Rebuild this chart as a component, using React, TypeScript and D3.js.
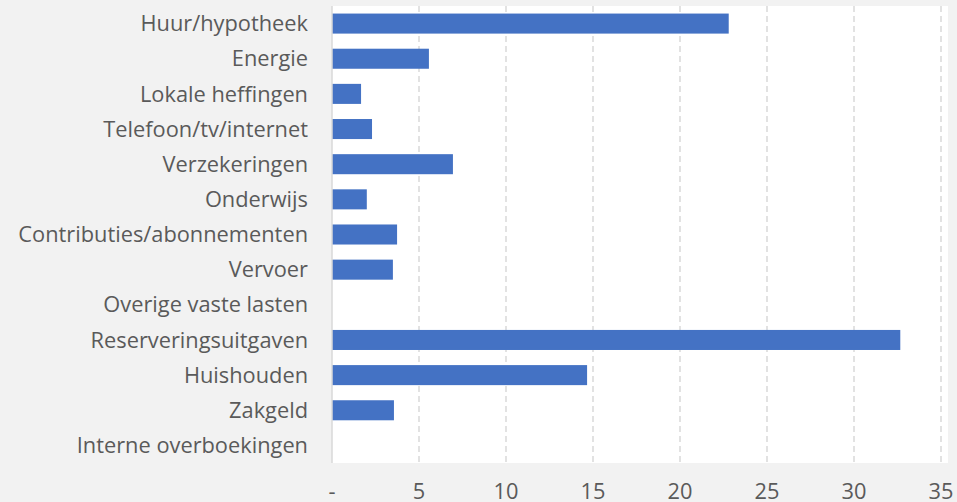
import * as d3 from 'd3';
import React from 'react';

const categories = [
  'Huur/hypotheek',
  'Energie',
  'Lokale heffingen',
  'Telefoon/tv/internet',
  'Verzekeringen',
  'Onderwijs',
  'Contributies/abonnementen',
  'Vervoer',
  'Overige vaste lasten',
  'Reserveringsuitgaven',
  'Huishouden',
  'Zakgeld',
  'Interne overboekingen',
];
const values = [22.8, 5.57, 1.67, 2.3, 6.95, 2.0, 3.74, 3.5, 0, 32.66, 14.66, 3.56, 0];
const ticks = [0, 5, 10, 15, 20, 25, 30, 35];

const W = 957;
const H = 502;
const plot = { left: 332, right: 941, top: 6, bottom: 463 };
const font = '"Open Sans", "Noto Sans", sans-serif';
const textColor = '#5a5a5a';

const App: React.FC = () => {
  const x = d3.scaleLinear().domain([0, 35]).range([plot.left, plot.right]);
  const y = d3.scaleBand()
    .domain(categories)
    .range([plot.top, plot.bottom])
    .paddingInner(0.43)
    .paddingOuter(0.215);

  return (
    <svg width={W} height={H} style={{ position: 'absolute', left: 0, top: 0 }}>
      <rect x={0} y={0} width={W} height={H} fill="#f2f2f2" />
      <rect x={plot.left} y={plot.top} width={948 - plot.left} height={plot.bottom - plot.top} fill="#ffffff" />
      {ticks.filter(t => t > 0).map(t => (
        <line key={t} x1={x(t)} x2={x(t)} y1={plot.top} y2={plot.bottom}
          stroke="#d9d9d9" strokeWidth={1.5} strokeDasharray="6 4" />
      ))}
      {categories.map((c, i) => (
        <rect key={c} x={x(0)} y={y(c)} width={x(values[i]) - x(0)} height={y.bandwidth()} fill="#4472c4" />
      ))}
      <line x1={x(0)} x2={x(0)} y1={plot.top} y2={plot.bottom} stroke="#d9d9d9" strokeWidth={1.5} />
      {categories.map(c => (
        <text key={c} x={308} y={(y(c) ?? 0) + y.bandwidth() / 2} dy="0.35em" textAnchor="end"
          fontFamily={font} fontSize={21.8} fill={textColor}>{c}</text>
      ))}
      {ticks.map(t => (
        <text key={t} x={x(t)} y={499} textAnchor="middle" fontFamily={font} fontSize={21.8} fill={textColor}>
          {t === 0 ? '-' : t}
        </text>
      ))}
    </svg>
  );
};

export default App;
